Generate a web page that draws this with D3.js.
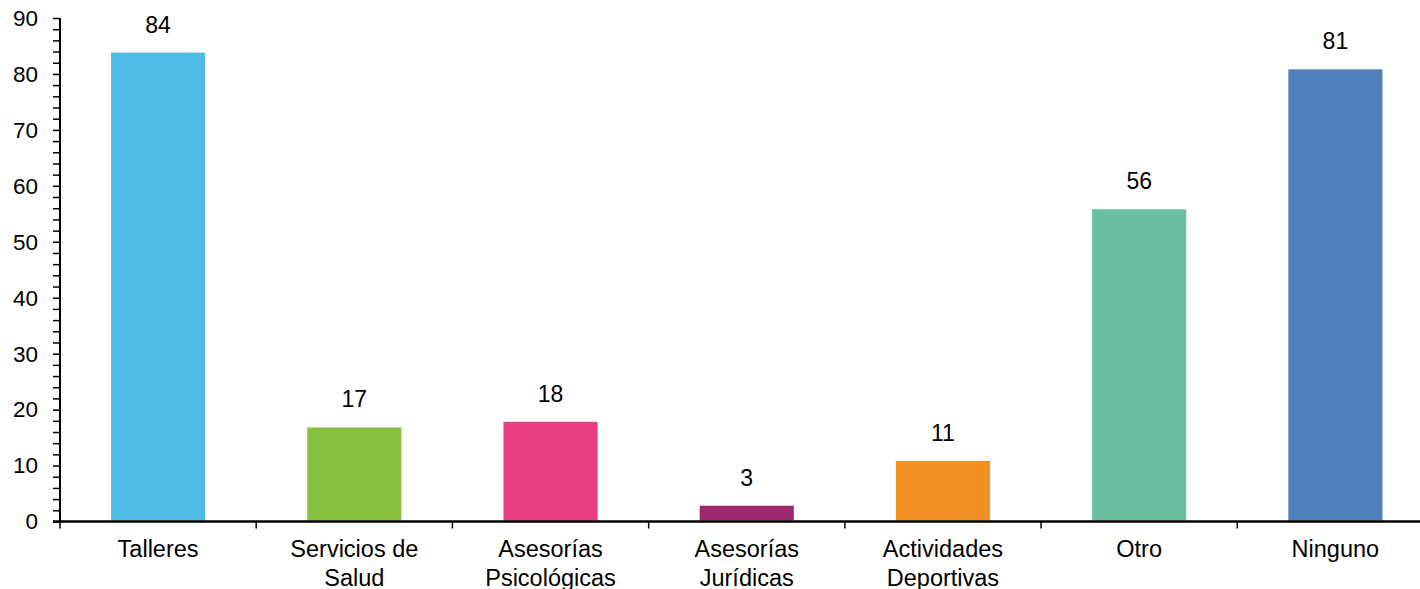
<!DOCTYPE html>
<html><head><meta charset="utf-8">
<script src="https://cdn.jsdelivr.net/npm/d3@7"></script>
<style>html,body{margin:0;padding:0;background:#fff;}svg{display:block;font-family:"Liberation Sans",Arial,sans-serif;}</style>
</head><body>
<svg id="c" width="1420" height="589"></svg>
<script>
const categories = [["Talleres"],["Servicios de","Salud"],["Asesorías","Psicológicas"],["Asesorías","Jurídicas"],["Actividades","Deportivas"],["Otro"],["Ninguno"]];
const values = [84, 17, 18, 3, 11, 56, 81];
const colors = ["#4FBBE4","#88C040","#E83E7E","#9E2870","#F18F22","#6ABF9F","#4E80BB"];
const yTicks = [0,10,20,30,40,50,60,70,80,90];

const svg = d3.select("#c");
const x0 = 60, x1 = 1433.5, yTop = 18, yBot = 521.5;
const keys = categories.map((c,i)=>i);
const x = d3.scaleBand().domain(keys).range([x0, x1]).paddingInner(0.51).paddingOuter(0.255);
const y = d3.scaleLinear().domain([0,90]).range([yBot, yTop]);

// bars
svg.append("g").selectAll("rect").data(values).join("rect")
  .attr("x",(d,i)=>x(i)).attr("width",x.bandwidth())
  .attr("y",d=>y(d)).attr("height",d=>yBot-y(d))
  .attr("fill",(d,i)=>colors[i]).attr("stroke","#fff").attr("stroke-width",2);

// value labels
svg.append("g").selectAll("text").data(values).join("text")
  .attr("x",(d,i)=>x(i)+x.bandwidth()/2).attr("y",d=>y(d)-19)
  .attr("text-anchor","middle").attr("font-size",23).attr("fill","#000").text(d=>d);

// y axis
const ya = svg.append("g").attr("transform",`translate(${x0},0)`);
ya.call(d3.axisLeft(y).tickValues(d3.range(0,91,2)).tickSize(7).tickFormat(""));
ya.call(g=>g.select(".domain").remove());
ya.selectAll(".tick line").attr("stroke","#000").attr("stroke-width",1.5);
ya.append("line").attr("x1",0).attr("x2",0).attr("y1",yTop).attr("y2",yBot).attr("stroke","#000").attr("stroke-width",2);
ya.selectAll(".ylab").data(yTicks).join("text").attr("class","ylab")
  .attr("x",-22).attr("y",d=>y(d)).attr("dy","0.35em").attr("text-anchor","end")
  .attr("font-size",22.5).attr("fill","#000").text(d=>d);

// x axis
const xa = svg.append("g");
xa.append("line").attr("x1",x0-7).attr("x2",1420).attr("y1",yBot).attr("y2",yBot).attr("stroke","#000").attr("stroke-width",2.5);
const step = x.step();
const bounds = d3.range(categories.length+1).map(i=>x0+i*step);
xa.selectAll(".xt").data(bounds).join("line").attr("class","xt")
  .attr("x1",d=>d).attr("x2",d=>d).attr("y1",yBot).attr("y2",yBot+7).attr("stroke","#000").attr("stroke-width",1.5);
const lab = xa.selectAll(".xl").data(categories).join("text").attr("class","xl")
  .attr("x",(d,i)=>x(i)+x.bandwidth()/2).attr("y",557)
  .attr("text-anchor","middle").attr("font-size",23.5).attr("fill","#000");
lab.selectAll("tspan").data(d=>d).join("tspan")
  .attr("x",function(){return this.parentNode.getAttribute("x");})
  .attr("dy",(d,i)=>i===0?0:28.5).text(d=>d);
</script>
</body></html>
